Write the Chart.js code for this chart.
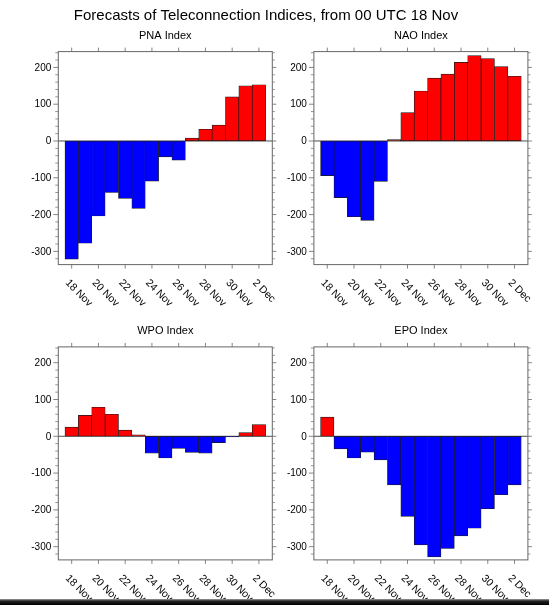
<!DOCTYPE html>
<html><head><meta charset="utf-8">
<script src="https://cdn.jsdelivr.net/npm/chart.js@4"></script>
<style>
html,body{margin:0;padding:0;background:#fff;overflow:hidden}
#wrap{position:relative;width:549px;height:605px;background:#fff}
canvas{position:absolute;left:0;top:0}
#strip{position:absolute;left:0;top:599px;width:549px;height:6px;background:linear-gradient(#a0a0a0,#222 35%,#000)}
</style></head>
<body><div id="wrap"><div id="strip"></div></div>
<script>
// ---- data ----
const mainTitle = 'Forecasts of Teleconnection Indices, from 00 UTC 18 Nov';
const days = ['18 Nov','19 Nov','20 Nov','21 Nov','22 Nov','23 Nov','24 Nov','25 Nov','26 Nov','27 Nov','28 Nov','29 Nov','30 Nov','1 Dec','2 Dec'];
const xTickIdx = [0,2,4,6,8,10,12,14];
const yTicks = [-300,-200,-100,0,100,200];
const pna = [-321,-278,-204,-140,-156,-183,-109,-43,-52,8,32,43,120,150,153];
const nao = [-94,-154,-206,-216,-110,4,77,136,171,182,214,232,224,202,176];
const wpo = [25,57,79,60,17,4,-46,-59,-33,-44,-46,-17,-2,10,32];
const epo = [52,-34,-59,-43,-64,-132,-218,-295,-328,-305,-271,-250,-197,-159,-132];
const panelTitles = ['PNA Index','NAO Index','WPO Index','EPO Index'];

const Y_MIN = -336, Y_MAX = 243;
const W = 549, H = 605;
const FONT = '"Liberation Sans", Arial, Helvetica, sans-serif';

const panels = [
  {title: panelTitles[0], data: pna, l: 58.3, r: 272.3, t: 51.6, b: 264.6, main: true},
  {title: panelTitles[1], data: nao, l: 313.9, r: 527.9, t: 51.6, b: 264.6},
  {title: panelTitles[2], data: wpo, l: 58.3, r: 272.3, t: 346.9, b: 559.9},
  {title: panelTitles[3], data: epo, l: 313.9, r: 527.9, t: 346.9, b: 559.9}
];

const nclPlugin = {
  id: 'ncl',
  afterDatasetsDraw(chart, args, opts) {
    const {ctx, chartArea: a, scales: {x, y}} = chart;
    ctx.save();
    const ln = (x1, y1, x2, y2) => { ctx.beginPath(); ctx.moveTo(x1, y1); ctx.lineTo(x2, y2); ctx.stroke(); };
    // zero line
    const y0 = y.getPixelForValue(0);
    ctx.strokeStyle = '#222'; ctx.lineWidth = 0.8;
    ln(a.left, y0, a.right, y0);
    // box
    ctx.strokeStyle = '#666'; ctx.lineWidth = 1;
    ctx.strokeRect(a.left, a.top, a.right - a.left, a.bottom - a.top);
    // y minor ticks
    ctx.strokeStyle = '#777'; ctx.lineWidth = 0.8;
    for (let v = -320; v <= Y_MAX; v += 20) {
      if (yTicks.includes(v)) continue;
      const p = y.getPixelForValue(v);
      ln(a.left - 3, p, a.left, p);
      ln(a.right, p, a.right + 2.5, p);
    }
    // y major ticks + labels
    ctx.fillStyle = '#000';
    ctx.font = '10px ' + FONT;
    ctx.textAlign = 'right'; ctx.textBaseline = 'middle';
    for (const v of yTicks) {
      const p = y.getPixelForValue(v);
      ctx.strokeStyle = '#666';
      ln(a.left - 5, p, a.left, p);
      ln(a.right, p, a.right + 4, p);
      ctx.fillText(String(v), a.left - 7, p + 0.5);
    }
    // x ticks + labels
    ctx.font = '10.5px ' + FONT;
    ctx.textAlign = 'left'; ctx.textBaseline = 'top';
    for (const i of xTickIdx) {
      const p = x.getPixelForValue(i);
      ctx.strokeStyle = '#666';
      ln(p, a.top - 4, p, a.top);
      ln(p, a.bottom, p, a.bottom + 4);
      ctx.save();
      ctx.translate(p - 1, a.bottom + 13);
      ctx.rotate(Math.PI / 4);
      ctx.fillText(days[i], 0, 0);
      ctx.restore();
    }
    // panel title
    ctx.font = '11px ' + FONT;
    ctx.textAlign = 'center'; ctx.textBaseline = 'alphabetic';
    ctx.fillText(opts.title, (a.left + a.right) / 2, a.top - 13);
    if (opts.main) {
      ctx.font = '15px ' + FONT;
      ctx.fillText(mainTitle, 266, 20);
    }
    ctx.restore();
  }
};

const wrap = document.getElementById('wrap');
for (const pn of panels) {
  const cv = document.createElement('canvas');
  cv.width = W; cv.height = H;
  cv.style.width = W + 'px'; cv.style.height = H + 'px';
  wrap.insertBefore(cv, wrap.firstChild);
  new Chart(cv.getContext('2d'), {
    type: 'bar',
    data: {
      datasets: [{
        data: pn.data.map((v, i) => ({x: i, y: v})),
        backgroundColor: pn.data.map(v => v >= 0 ? '#ff0000' : '#0000ff'),
        borderColor: '#1a1a1a',
        borderWidth: 0.7,
        borderSkipped: false,
        categoryPercentage: 1.0,
        barPercentage: 1.0
      }]
    },
    options: {
      responsive: false,
      animation: false,
      devicePixelRatio: 1,
      layout: {padding: {left: pn.l, right: W - pn.r, top: pn.t, bottom: H - pn.b}},
      scales: {
        x: {type: 'linear', min: -1, max: 15, display: false, offset: false},
        y: {min: Y_MIN, max: Y_MAX, display: false}
      },
      plugins: {
        legend: {display: false},
        tooltip: {enabled: false},
        title: {display: false},
        ncl: {title: pn.title, main: !!pn.main}
      }
    },
    plugins: [nclPlugin]
  });
}
</script>
</body></html>
